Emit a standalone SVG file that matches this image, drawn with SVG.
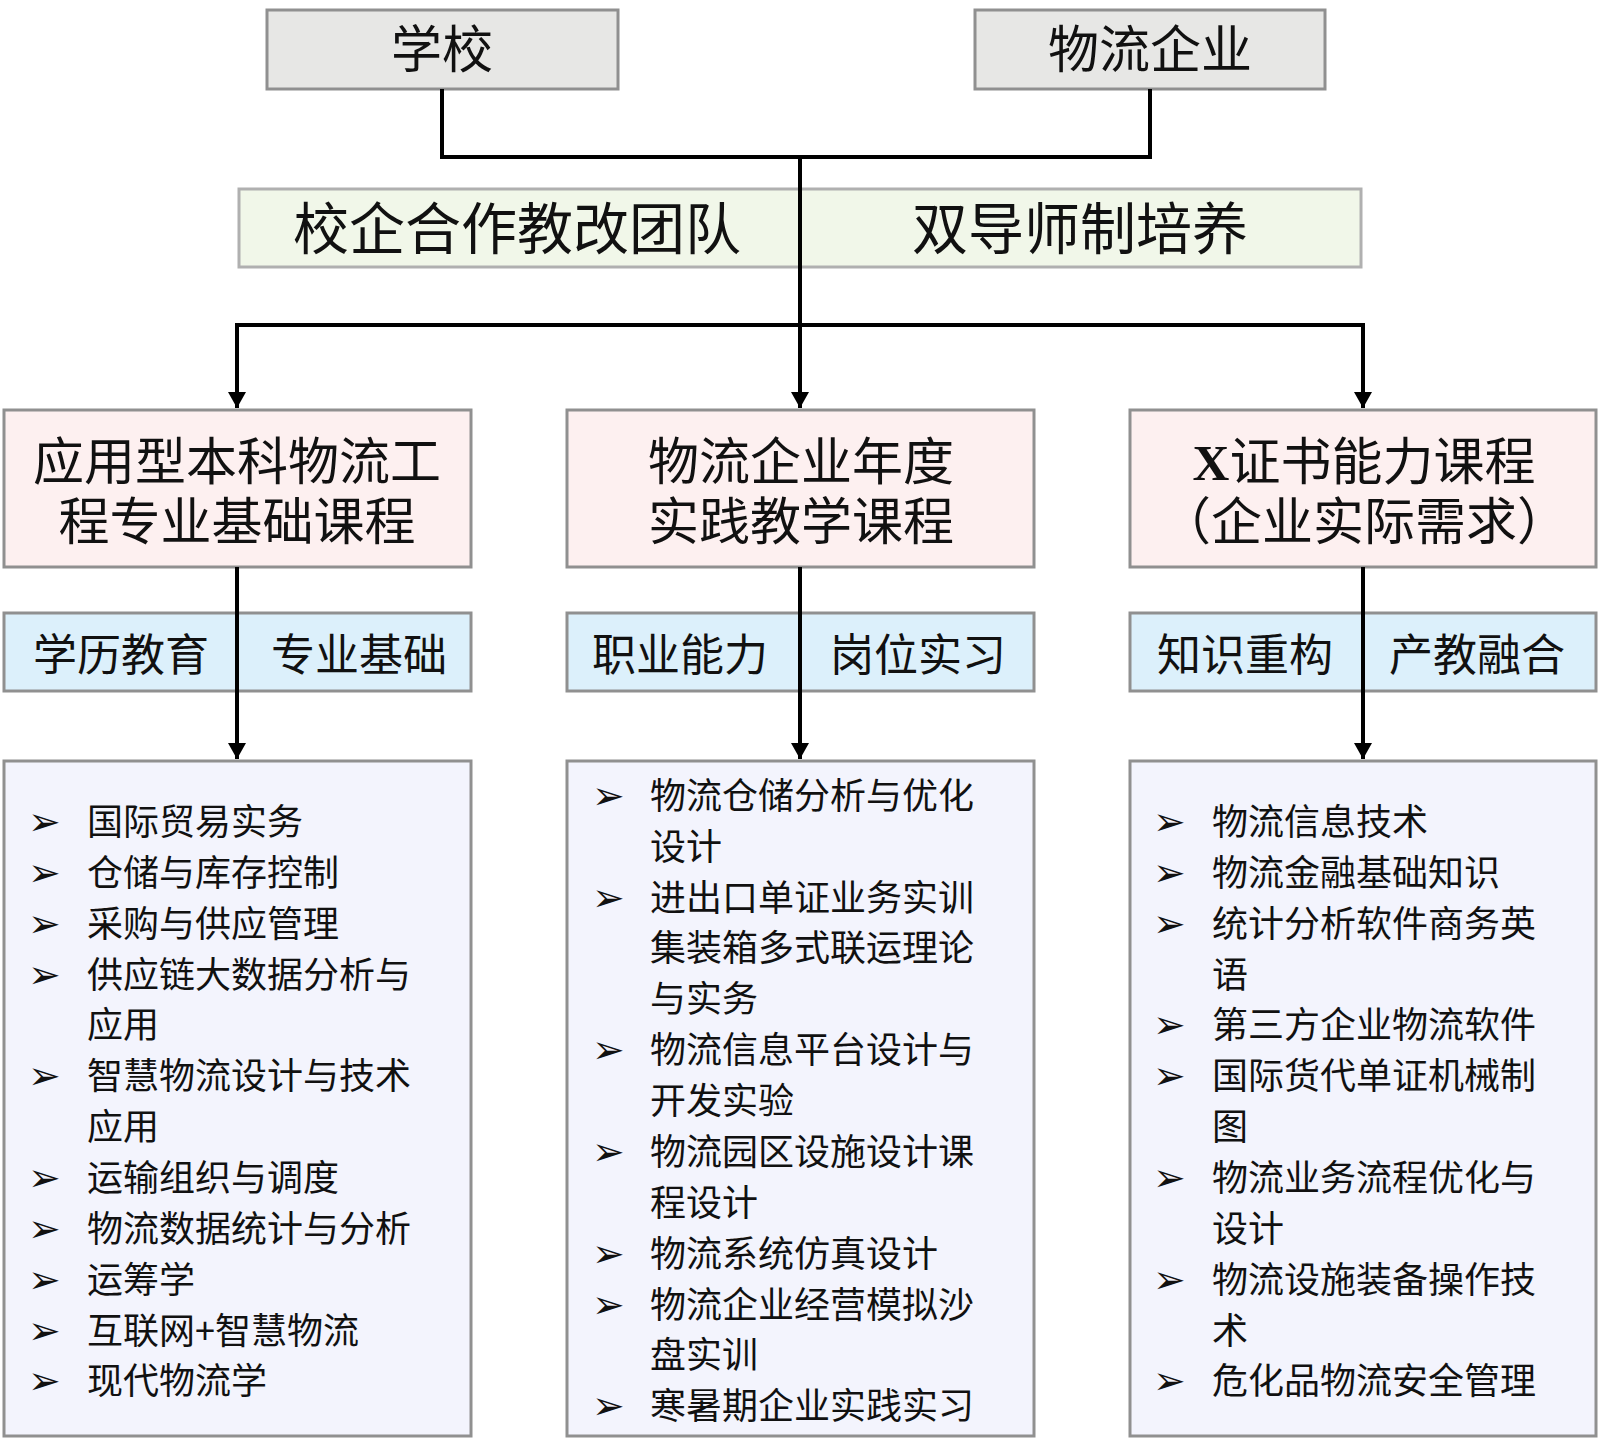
<svg xmlns="http://www.w3.org/2000/svg" width="1600" height="1448" viewBox="0 0 1600 1448">
<style>
.box{stroke:#909090;stroke-width:3}
.top{fill:#e7e7e5}
.band{fill:#f1f7e9;stroke:#b0b0b0}
.title{fill:#fdf0f0}
.tag{fill:#dcf0fb}
.list{fill:#f3f4fd}
text{font-family:"Noto Sans CJK SC","Noto Sans",sans-serif;fill:#111}
.t51{font-size:51px;text-anchor:middle}
.t56{font-size:56px;text-anchor:middle}
.t44{font-size:44px;text-anchor:middle}
.li{font-size:36px}
text.bu{font-family:"DejaVu Sans",sans-serif;font-size:39px}
.line{fill:none;stroke:#000;stroke-width:4}
</style>
<defs>
<marker id="ah" markerUnits="userSpaceOnUse" markerWidth="20" markerHeight="20" viewBox="0 0 20 20" refX="18" refY="10" orient="auto">
<path d="M2,1 L18,10 L2,19 Z" fill="#000"/>
</marker>
</defs>
<rect width="1600" height="1448" fill="#fff"/>

<g id="school">
<rect class="box top" x="267" y="10" width="351" height="79"/>
<text class="t51" x="442" y="68">学校</text>
</g>
<g id="enterprise">
<rect class="box top" x="975" y="10" width="350" height="79"/>
<text class="t51" x="1150" y="68">物流企业</text>
</g>
<g id="band">
<rect class="box band" x="239" y="189" width="1122" height="78"/>
<text class="t56" x="517" y="249">校企合作教改团队</text>
<text class="t56" x="1080" y="249">双导师制培养</text>
</g>

<g id="title-left">
<rect class="box title" x="4" y="410" width="467" height="157"/>
<text class="t51" x="237" y="480">应用型本科物流工<tspan x="237" dy="60">程专业基础课程</tspan></text>
</g>
<g id="title-mid">
<rect class="box title" x="567" y="410" width="467" height="157"/>
<text class="t51" x="801" y="480">物流企业年度<tspan x="801" dy="60">实践教学课程</tspan></text>
</g>
<g id="title-right">
<rect class="box title" x="1130" y="410" width="466" height="157"/>
<text class="t51" x="1364" y="480"><tspan font-family="Liberation Serif,serif" font-weight="bold">X</tspan>证书能力课程<tspan x="1364" dy="60">（企业实际需求）</tspan></text>
</g>

<g id="tag-left">
<rect class="box tag" x="4" y="613" width="467" height="78"/>
<text class="t44" x="121" y="671">学历教育</text>
<text class="t44" x="359" y="671">专业基础</text>
</g>
<g id="tag-mid">
<rect class="box tag" x="567" y="613" width="467" height="78"/>
<text class="t44" x="680" y="671">职业能力</text>
<text class="t44" x="918" y="671">岗位实习</text>
</g>
<g id="tag-right">
<rect class="box tag" x="1130" y="613" width="466" height="78"/>
<text class="t44" x="1245" y="671">知识重构</text>
<text class="t44" x="1477" y="671">产教融合</text>
</g>

<g id="list-left">
<rect class="box list" x="4" y="761" width="467" height="675"/>
<text class="bu" x="28" y="835">➢</text>
<text class="bu" x="28" y="886">➢</text>
<text class="bu" x="28" y="937">➢</text>
<text class="bu" x="28" y="988">➢</text>
<text class="bu" x="28" y="1089">➢</text>
<text class="bu" x="28" y="1191">➢</text>
<text class="bu" x="28" y="1242">➢</text>
<text class="bu" x="28" y="1293">➢</text>
<text class="bu" x="28" y="1344">➢</text>
<text class="bu" x="28" y="1394">➢</text>
<text class="li" x="87" y="835">国际贸易实务</text>
<text class="li" x="87" y="886">仓储与库存控制</text>
<text class="li" x="87" y="937">采购与供应管理</text>
<text class="li" x="87" y="988">供应链大数据分析与</text>
<text class="li" x="87" y="1038">应用</text>
<text class="li" x="87" y="1089">智慧物流设计与技术</text>
<text class="li" x="87" y="1140">应用</text>
<text class="li" x="87" y="1191">运输组织与调度</text>
<text class="li" x="87" y="1242">物流数据统计与分析</text>
<text class="li" x="87" y="1293">运筹学</text>
<text class="li" x="87" y="1344">互联网+智慧物流</text>
<text class="li" x="87" y="1394">现代物流学</text>
</g>

<g id="list-mid">
<rect class="box list" x="567" y="761" width="467" height="675"/>
<text class="bu" x="592" y="809">➢</text>
<text class="bu" x="592" y="911">➢</text>
<text class="bu" x="592" y="1063">➢</text>
<text class="bu" x="592" y="1165">➢</text>
<text class="bu" x="592" y="1267">➢</text>
<text class="bu" x="592" y="1318">➢</text>
<text class="bu" x="592" y="1419">➢</text>
<text class="li" x="650" y="809">物流仓储分析与优化</text>
<text class="li" x="650" y="860">设计</text>
<text class="li" x="650" y="911">进出口单证业务实训</text>
<text class="li" x="650" y="961">集装箱多式联运理论</text>
<text class="li" x="650" y="1012">与实务</text>
<text class="li" x="650" y="1063">物流信息平台设计与</text>
<text class="li" x="650" y="1114">开发实验</text>
<text class="li" x="650" y="1165">物流园区设施设计课</text>
<text class="li" x="650" y="1216">程设计</text>
<text class="li" x="650" y="1267">物流系统仿真设计</text>
<text class="li" x="650" y="1318">物流企业经营模拟沙</text>
<text class="li" x="650" y="1368">盘实训</text>
<text class="li" x="650" y="1419">寒暑期企业实践实习</text>
</g>

<g id="list-right">
<rect class="box list" x="1130" y="761" width="466" height="675"/>
<text class="bu" x="1153" y="835">➢</text>
<text class="bu" x="1153" y="886">➢</text>
<text class="bu" x="1153" y="937">➢</text>
<text class="bu" x="1153" y="1038">➢</text>
<text class="bu" x="1153" y="1089">➢</text>
<text class="bu" x="1153" y="1191">➢</text>
<text class="bu" x="1153" y="1293">➢</text>
<text class="bu" x="1153" y="1394">➢</text>
<text class="li" x="1212" y="835">物流信息技术</text>
<text class="li" x="1212" y="886">物流金融基础知识</text>
<text class="li" x="1212" y="937">统计分析软件商务英</text>
<text class="li" x="1212" y="988">语</text>
<text class="li" x="1212" y="1038">第三方企业物流软件</text>
<text class="li" x="1212" y="1089">国际货代单证机械制</text>
<text class="li" x="1212" y="1140">图</text>
<text class="li" x="1212" y="1191">物流业务流程优化与</text>
<text class="li" x="1212" y="1242">设计</text>
<text class="li" x="1212" y="1293">物流设施装备操作技</text>
<text class="li" x="1212" y="1344">术</text>
<text class="li" x="1212" y="1394">危化品物流安全管理</text>
</g>

<g id="connectors">
<path class="line" d="M442,89 V157 H1150 V89"/>
<path class="line" d="M800,157 V325"/>
<path class="line" d="M237,408 V325 H1363 V408"/>
<path class="line" d="M237,325 V408" marker-end="url(#ah)"/>
<path class="line" d="M800,325 V408" marker-end="url(#ah)"/>
<path class="line" d="M1363,325 V408" marker-end="url(#ah)"/>
<path class="line" d="M237,567 V759" marker-end="url(#ah)"/>
<path class="line" d="M800,567 V759" marker-end="url(#ah)"/>
<path class="line" d="M1363,567 V759" marker-end="url(#ah)"/>
</g>
</svg>
